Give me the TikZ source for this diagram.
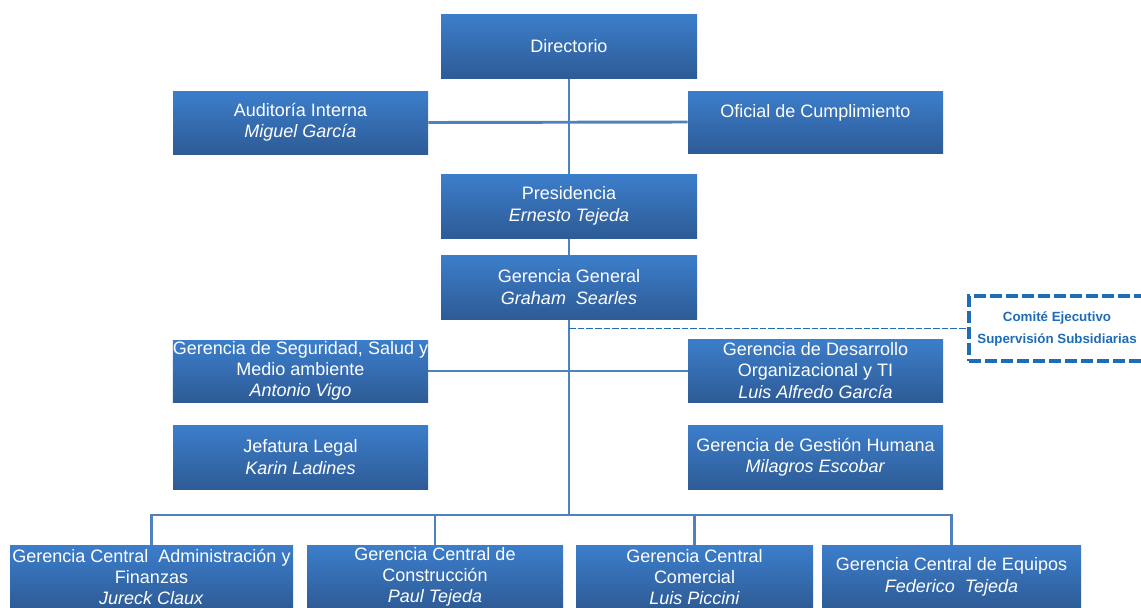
\documentclass[tikz,border=0pt]{standalone}
\usepackage{fontspec}
\setmainfont{Liberation Sans}
\usetikzlibrary{backgrounds}
\definecolor{boxtop}{RGB}{60,126,203}
\definecolor{boxbot}{RGB}{46,91,150}
\definecolor{linec}{RGB}{79,129,189}
\definecolor{dashc}{RGB}{30,108,184}
\tikzset{
  orgbox/.style={rectangle, inner sep=0pt, top color=boxtop, bottom color=boxbot,
    text=white, align=center, font=\fontsize{13.5}{16}\selectfont},
  orgline/.style={draw=linec, line width=2.2pt},
  dashline/.style={draw=dashc, line width=1.2pt, dash pattern=on 5pt off 1.5pt},
  combox/.style={rectangle, draw=dashc, line width=2.4pt, dash pattern=on 9pt off 3pt,
    fill=white, text=dashc, align=center, inner sep=0pt,
    font=\fontsize{10}{16.5}\selectfont\bfseries}
}
\begin{document}
\begin{tikzpicture}[x=0.75pt,y=-0.75pt]
\useasboundingbox (0,0) rectangle (1141,607);
\clip (0,0) rectangle (1141,607);
\node[orgbox, minimum width=192pt, minimum height=48pt] (dir) at (569,46) {Directorio};
\node[orgbox, minimum width=191.25pt, minimum height=47.25pt] (aud) at (300.5,122.5) {Auditoría Interna\\\textit{Miguel García}};
\node[orgbox, minimum width=191.25pt, minimum height=46.5pt] (ofi) at (815.5,122) {Oficial de Cumplimiento\\\phantom{X}};
\node[orgbox, minimum width=192pt, minimum height=48pt] (pres) at (569,206) {Presidencia\\\textit{Ernesto Tejeda}};
\node[orgbox, minimum width=192pt, minimum height=48pt] (gg) at (569,287) {Gerencia General\\\textit{Graham\ \ Searles}};
\node[orgbox, minimum width=191.25pt, minimum height=46.5pt] (seg) at (300.5,371) {Gerencia de Seguridad, Salud y\\Medio ambiente\\\textit{Antonio Vigo}};
\node[orgbox, minimum width=191.25pt, minimum height=47.25pt] (des) at (815.5,370.5) {Gerencia de Desarrollo\\Organizacional y TI\\\textit{Luis Alfredo García}};
\node[orgbox, minimum width=191.25pt, minimum height=48pt] (jef) at (300.5,457) {Jefatura Legal\\\textit{Karin Ladines}};
\node[orgbox, minimum width=191.25pt, minimum height=48pt] (gh) at (815.5,457) {Gerencia de Gestión Humana\\\textit{Milagros Escobar}};
\node[orgbox, minimum width=212.25pt, minimum height=48pt] (b1) at (151.5,577) {Gerencia Central\ \ Administración y\\Finanzas\\\textit{Jureck Claux}};
\node[orgbox, minimum width=192pt, minimum height=48pt] (b2) at (435,577) {Gerencia Central de\\Construcción\\\textit{Paul Tejeda}};
\node[orgbox, minimum width=177.75pt, minimum height=48pt] (b3) at (694.5,577) {Gerencia Central\\Comercial\\\textit{Luis Piccini}};
\node[orgbox, minimum width=194.25pt, minimum height=48pt] (b4) at (951.5,577) {Gerencia Central de Equipos\\\textit{Federico\ \ Tejeda}};
\node[combox, minimum width=132pt, minimum height=48.75pt] (com) at (1057,328.5) {Comité Ejecutivo\\Supervisión Subsidiarias};
\coordinate (bus) at (569,515);
\begin{pgfonlayer}{background}
\draw[orgline] (dir.south) -- (bus);
\draw[orgline] (aud.east) -- (ofi.west);
\draw[orgline] (seg.east) -- (seg.east -| des.west);
\draw[orgline, line join=miter] (b1.north) -- (b1.north |- bus) -- (b4.north |- bus) -- (b4.north);
\draw[orgline] (b2.north) -- (b2.north |- bus);
\draw[orgline] (b3.north) -- (b3.north |- bus);
\draw[dashline] (gg.south |- com.west) -- (com.west);
\end{pgfonlayer}
\end{tikzpicture}
\end{document}
